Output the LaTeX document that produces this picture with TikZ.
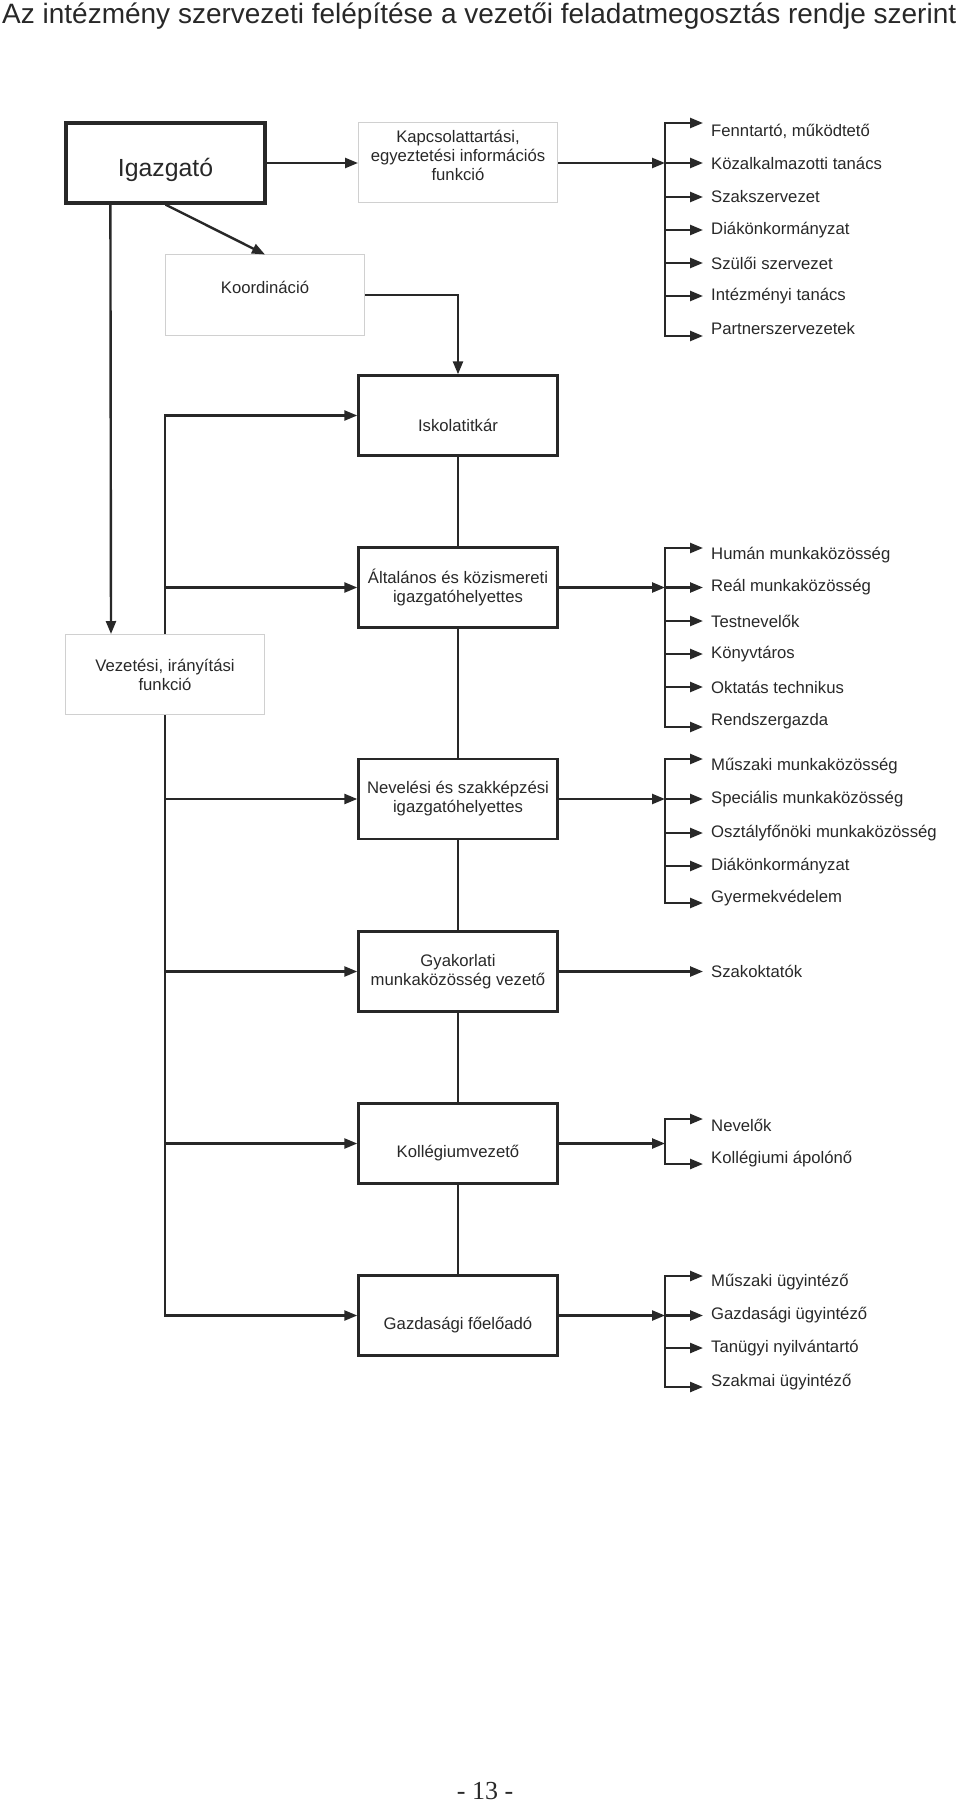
\documentclass[tikz,border=0pt]{standalone}
\usepackage{fontspec}
\setmainfont{Liberation Sans}
\newfontfamily\pagefont{Liberation Serif}
\usetikzlibrary{arrows.meta,calc}

\definecolor{ink}{HTML}{282828}
\definecolor{lightframe}{HTML}{D0D0D0}

\tikzset{
  arr/.style={-{Triangle[length=6.5pt,width=5pt]}},
  boxtext/.style={font=\fontsize{8.35pt}{9.5pt}\selectfont,text=ink,align=center,inner sep=0pt},
  thickbox/.style={draw=ink,line width=1.2pt,minimum width=99.5pt,minimum height=40pt,inner sep=0pt,boxtext},
  thinbox/.style={thickbox,draw=lightframe,line width=0.5pt},
  unit/.style={anchor=west,inner xsep=3.5pt,inner ysep=1pt,font=\fontsize{8.35pt}{9.5pt}\selectfont,text=ink},
}

\begin{document}
\begin{tikzpicture}[x=0.5pt,y=-0.5pt,line width=1.2pt,color=ink]
  \useasboundingbox (0,0) rectangle (960,1803);

  %title and page number
  \node[anchor=base west,inner sep=0pt,font=\fontsize{14pt}{16pt}\selectfont] (title) at (1,24) {Az intézmény szervezeti felépítése a vezetői feladatmegosztás rendje szerint};
  \node[inner sep=0pt,font=\pagefont\fontsize{13pt}{15pt}\selectfont] (page) at (485,1791) {- 13 -};

  %left column
  \node[thickbox,line width=1.6pt,label={[boxtext,font=\fontsize{12.4pt}{14pt}\selectfont,yshift=-3.5pt]center:Igazgató}] (ig) at (165.5,163) {};
  \node[thinbox,label={[boxtext,yshift=4pt]center:Koordináció}] (koord) at (265,295) {};
  \node[thinbox] (vez) at (165,674.5) {Vezetési, irányítási\\funkció};

  %middle column
  \node[thinbox,label={[boxtext,yshift=4pt]center:{Kapcsolattartási,\\egyeztetési információs\\funkció}}] (kap) at (458,163) {};
  \node[thickbox,label={[boxtext,yshift=-5pt]center:Iskolatitkár}] (isk) at (458,415.5) {};
  \node[thickbox] (alt) at (458,587.5) {Általános és közismereti\\igazgatóhelyettes};
  \node[thickbox] (nev) at (458,799) {Nevelési és szakképzési\\igazgatóhelyettes};
  \node[thickbox] (gyak) at (458,971.5) {Gyakorlati\\munkaközösség vezető};
  \node[thickbox,label={[boxtext,yshift=-5pt]center:Kollégiumvezető}] (koll) at (458,1143.5) {};
  \node[thickbox,label={[boxtext,yshift=-5pt]center:Gazdasági főelőadó}] (gazd) at (458,1315.5) {};

  %right column
  \node[unit] (fenn) at (703,131) {Fenntartó, működtető};
  \node[unit] (kozalk) at (703,163) {Közalkalmazotti tanács};
  \node[unit] (szaksz) at (703,197) {Szakszervezet};
  \node[unit] (diak1) at (703,230) {Diákönkormányzat};
  \node[unit] (szuloi) at (703,263) {Szülői szervezet};
  \node[unit] (intez) at (703,296) {Intézményi tanács};
  \node[unit] (partn) at (703,329) {Partnerszervezetek};

  \node[unit] (human) at (703,555) {Humán munkaközösség};
  \node[unit] (real) at (703,587.5) {Reál munkaközösség};
  \node[unit] (testnev) at (703,621) {Testnevelők};
  \node[unit] (konyvt) at (703,654) {Könyvtáros};
  \node[unit] (oktech) at (703,687) {Oktatás technikus};
  \node[unit] (rendsz) at (703,721) {Rendszergazda};

  \node[unit] (muszaki) at (703,766) {Műszaki munkaközösség};
  \node[unit] (spec) at (703,799) {Speciális munkaközösség};
  \node[unit] (osztf) at (703,833) {Osztályfőnöki munkaközösség};
  \node[unit] (diak2) at (703,866) {Diákönkormányzat};
  \node[unit] (gyerm) at (703,898) {Gyermekvédelem};

  \node[unit] (szakokt) at (703,971.5) {Szakoktatók};

  \node[unit] (nevelok) at (703,1125) {Nevelők};
  \node[unit] (apolo) at (703,1159) {Kollégiumi ápolónő};

  \node[unit] (muszug) at (703,1282) {Műszaki ügyintéző};
  \node[unit] (gazdug) at (703,1315.5) {Gazdasági ügyintéző};
  \node[unit] (tanugy) at (703,1348) {Tanügyi nyilvántartó};
  \node[unit] (szakmug) at (703,1382) {Szakmai ügyintéző};

  %igazgato
  \draw[arr] (ig.east) -- (kap.west);
  \draw[arr] (ig.south) -- (koord.north);
  \draw[arr] ([xshift=23pt]ig.south west) -- ([xshift=23pt]vez.north west);
  \draw[arr] (koord.east) -| (isk.north);

  %vezetesi, iranyitasi funkcio
  \draw[arr] (vez.north) |- (isk.west);
  \draw[arr] (vez.north) |- (alt.west);
  \draw[arr] (vez.south) |- (nev.west);
  \draw[arr] (vez.south) |- (gyak.west);
  \draw[arr] (vez.south) |- (koll.west);
  \draw[arr] (vez.south) |- (gazd.west);

  %middle line
  \draw (isk.south) -- (alt.north);
  \draw (alt.south) -- (nev.north);
  \draw (nev.south) -- (gyak.north);
  \draw (gyak.south) -- (koll.north);
  \draw (koll.south) -- (gazd.north);

  %kapcsolattartas
  \coordinate (j1) at (665,163);
  \draw[arr] (kap.east) -- (j1);
  \draw[arr] (j1) |- ($(fenn.west)+(0,-8)$);
  \draw[arr] (j1) -- (kozalk.west);
  \draw[arr] (j1) |- (szaksz.west);
  \draw[arr] (j1) |- (diak1.west);
  \draw[arr] (j1) |- (szuloi.west);
  \draw[arr] (j1) |- (intez.west);
  \draw[arr] (j1) |- ($(partn.west)+(0,7)$);

  %altalanos igazgatohelyettes
  \coordinate (j2) at (665,587.5);
  \draw[arr] (alt.east) -- (j2);
  \draw[arr] (j2) |- ($(human.west)+(0,-7)$);
  \draw[arr] (j2) -- (real.west);
  \draw[arr] (j2) |- (testnev.west);
  \draw[arr] (j2) |- (konyvt.west);
  \draw[arr] (j2) |- (oktech.west);
  \draw[arr] (j2) |- ($(rendsz.west)+(0,6)$);

  %nevelesi igazgatohelyettes
  \coordinate (j3) at (665,799);
  \draw[arr] (nev.east) -- (j3);
  \draw[arr] (j3) |- ($(muszaki.west)+(0,-7)$);
  \draw[arr] (j3) -- (spec.west);
  \draw[arr] (j3) |- (osztf.west);
  \draw[arr] (j3) |- (diak2.west);
  \draw[arr] (j3) |- ($(gyerm.west)+(0,5)$);

  %gyakorlati munkakozosseg
  \draw[arr] (gyak.east) -- (szakokt.west);

  %kollegium
  \coordinate (j5) at (665,1143.5);
  \draw[arr] (koll.east) -- (j5);
  \draw[arr] (j5) |- ($(nevelok.west)+(0,-6)$);
  \draw[arr] (j5) |- ($(apolo.west)+(0,5)$);

  %gazdasagi foeloado
  \coordinate (j6) at (665,1315.5);
  \draw[arr] (gazd.east) -- (j6);
  \draw[arr] (j6) |- ($(muszug.west)+(0,-6)$);
  \draw[arr] (j6) -- (gazdug.west);
  \draw[arr] (j6) |- (tanugy.west);
  \draw[arr] (j6) |- ($(szakmug.west)+(0,5)$);
\end{tikzpicture}
\end{document}
